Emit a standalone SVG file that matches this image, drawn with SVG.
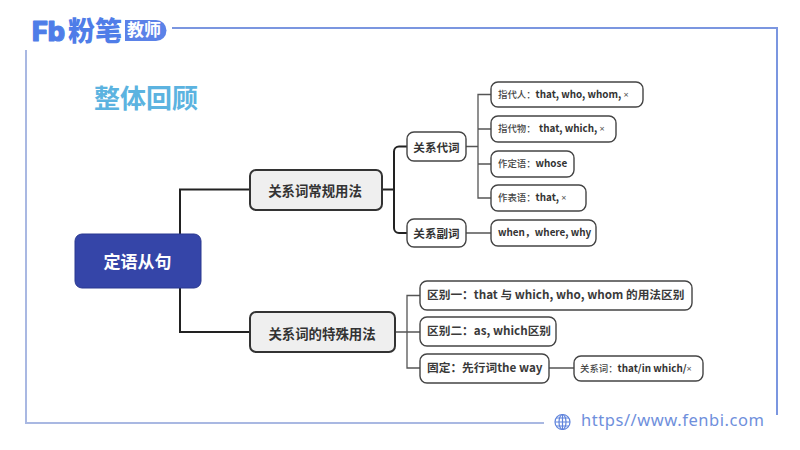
<svg xmlns="http://www.w3.org/2000/svg" width="800" height="450" viewBox="0 0 800 450">
<style>
text{font-family:"Noto Sans CJK SC","Noto Sans",sans-serif;fill:#333}
.n{fill:#fff;stroke:#444;stroke-width:1.4}
.m{fill:#efefef;stroke:#333;stroke-width:2}
.b{font-weight:700;font-size:13.4px;text-anchor:middle;dominant-baseline:central}
.s{font-weight:700;font-size:11.6px;text-anchor:middle;dominant-baseline:central}
.l{font-size:9.4px;font-weight:500;fill:#444}
.l tspan{font-weight:700;fill:#333;font-size:9.900px}
.l tspan.x{font-family:"Noto Sans",sans-serif;font-weight:400;font-size:9px;fill:#555}
.k{font-size:11.700px;font-weight:700;fill:#3a3a3a}
.c{fill:none;stroke:#555;stroke-width:1.3}
.d{fill:none;stroke:#222;stroke-width:2}
.f{fill:none;stroke-width:2}
</style>
<rect width="800" height="450" fill="#fff"/>
<g id="frame">
<path class="f" stroke="#7b96e0" d="M172 28H777V415"/>
<path class="f" stroke="#a9b8e2" d="M26 50V423H544"/>
</g>
<g id="logo">
<text x="32" y="41" style="font-family:'Inter','Noto Sans',sans-serif;font-size:27px;font-weight:800;fill:#4f7de8;stroke:#4f7de8;stroke-width:1.200;stroke-linejoin:round">Fb</text>
<text x="68" y="40.500" style="font-size:27px;font-weight:900;fill:#4f7de8">粉笔</text>
<path d="M125 20H156a10.500 10.500 0 0 1 0 21H125Z" fill="#5b82e8"/>
<text x="127" y="36" style="font-size:17px;font-weight:700;fill:#fff">教师</text>
</g>
<text id="title" x="94" y="108" style="font-size:26px;font-weight:700;fill:#5cb3e0">整体回顾</text>
<g id="connectors">
<path class="d" d="M180 234V189.500H250M180 288V332H250"/>
<path class="d" d="M382 189.500H394M407 146.500H399a5 5 0 0 0-5 5V228a5 5 0 0 0 5 5H407"/>
<path class="c" d="M466 146.500H478M491 94.500H478V198H491M478 129H491M478 164H491M466 233H491"/>
<path class="c" d="M395 332H420M420 295.500H407V368H420M549 368H574"/>
</g>
<g id="root"><rect x="75" y="234" width="126" height="54" rx="7" fill="#3545a8" stroke="#2a3890"/><text x="137.500" y="260.500" style="font-size:17px;font-weight:700;fill:#fff;text-anchor:middle;dominant-baseline:central">定语从句</text></g>
<g id="n1"><rect class="m" x="250" y="170" width="132" height="40" rx="6"/><text class="b" x="315" y="190">关系词常规用法</text></g>
<g id="n2"><rect class="m" x="250" y="312" width="145" height="40" rx="6"/><text class="b" x="322" y="332.500">关系词的特殊用法</text></g>
<g id="n3"><rect class="n" x="407" y="132" width="59" height="29" rx="7"/><text class="s" x="436.500" y="146.500">关系代词</text></g>
<g id="n4"><rect class="n" x="407" y="219" width="59" height="28" rx="7"/><text class="s" x="436.500" y="233">关系副词</text></g>
<g id="l1"><rect class="n" x="491" y="82" width="152" height="25" rx="7"/><text class="l" x="498" y="98">指代人：<tspan>that, who, whom, </tspan><tspan class="x">×</tspan></text></g>
<g id="l2"><rect class="n" x="491" y="116" width="125" height="26" rx="7"/><text class="l" x="498" y="132">指代物： <tspan x="539">that, which, </tspan><tspan class="x">×</tspan></text></g>
<g id="l3"><rect class="n" x="491" y="151" width="83" height="26" rx="7"/><text class="l" x="498" y="167">作定语：<tspan>whose</tspan></text></g>
<g id="l4"><rect class="n" x="491" y="185" width="95" height="26" rx="7"/><text class="l" x="498" y="201">作表语：<tspan>that, </tspan><tspan class="x">×</tspan></text></g>
<g id="l5"><rect class="n" x="491" y="220" width="105" height="26" rx="7"/><text class="l" x="498" y="236"><tspan>when，where, why</tspan></text></g>
<g id="k1"><rect class="n" x="420" y="281" width="272" height="29" rx="7"/><text class="k" x="427" y="299">区别一：that 与 which, who, whom 的用法区别</text></g>
<g id="k2"><rect class="n" x="420" y="317" width="136" height="29" rx="7"/><text class="k" x="427" y="335">区别二：as, which区别</text></g>
<g id="k3"><rect class="n" x="420" y="354" width="129" height="29" rx="7"/><text class="k" x="427" y="372">固定：先行词the way</text></g>
<g id="k4"><rect class="n" x="574" y="356" width="129" height="25" rx="7"/><text class="l" x="580" y="372">关系词：<tspan>that/in which/</tspan><tspan class="x">×</tspan></text></g>
<g id="footer">
<g fill="none" stroke="#5f83dc" stroke-width="1.200"><circle cx="562.500" cy="422" r="7.500"/><ellipse cx="562.500" cy="422" rx="3.500" ry="7.500"/><path d="M555 422H570M556 418H569M556 426H569M562.500 414.500V429.500"/></g>
<text x="581" y="426" style="font-size:16.500px;letter-spacing:.55px;fill:#6f8fdc;font-family:'Noto Sans',sans-serif">https//www.fenbi.com</text>
</g>
</svg>
